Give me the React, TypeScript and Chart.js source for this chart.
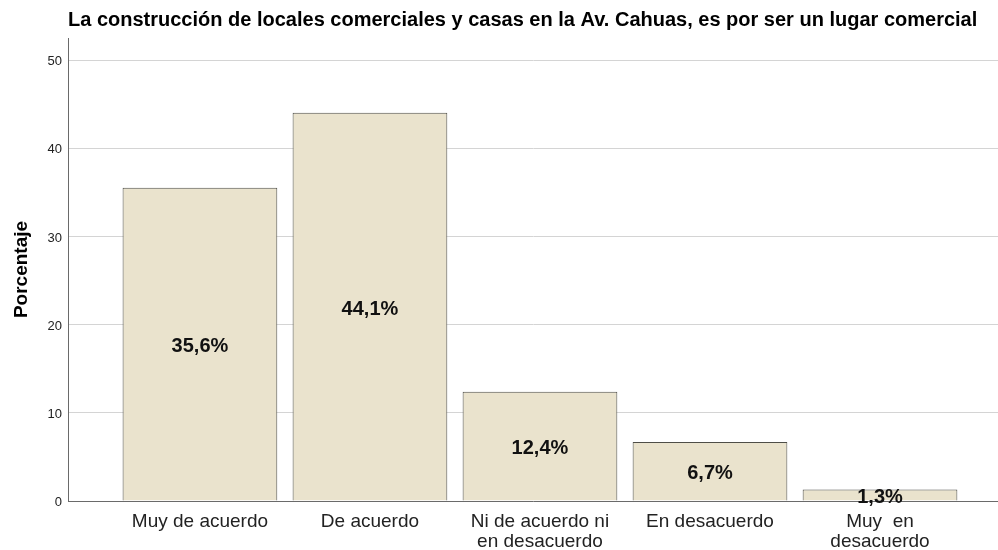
import React, { useEffect, useRef } from "react";
import { Chart, registerables } from "chart.js";

Chart.register(...registerables);

const categories: (string | string[])[] = [
  "Muy de acuerdo",
  "De acuerdo",
  ["Ni de acuerdo ni", "en desacuerdo"],
  "En desacuerdo",
  ["Muy  en", "desacuerdo"],
];
const percentages = [35.6, 44.1, 12.4, 6.7, 1.3];
const yTicks = [0, 10, 20, 30, 40, 50];
const titleText =
  "La construcción de locales comerciales y casas en la Av. Cahuas, es por ser un lugar comercial";
const yTitle = "Porcentaje";

const FONT = "Arial, 'Liberation Sans', Helvetica, sans-serif";

const barLabels = {
  id: "barLabels",
  afterDatasetsDraw(chart: any) {
    const ctx = chart.ctx;
    const meta = chart.getDatasetMeta(0);
    ctx.save();
    ctx.font = `bold 20px ${FONT}`;
    ctx.fillStyle = "#111";
    ctx.textAlign = "center";
    ctx.textBaseline = "middle";
    meta.data.forEach((el: any, i: number) => {
      const v = percentages[i];
      const txt = v.toFixed(1).replace(".", ",") + "%";
      ctx.fillText(txt, el.x, (el.y + el.base) / 2 + 2.5);
    });
    ctx.restore();
  },
};

export default function App() {
  const ref = useRef<HTMLCanvasElement>(null);
  useEffect(() => {
    document.body.style.margin = "0";
    const chart = new Chart(ref.current!, {
      type: "bar",
      data: {
        datasets: [
          {
            data: percentages.map((v, i) => ({ x: i, y: v })),
            backgroundColor: "#EAE3CD",
            borderColor: "#4E4E47",
            borderWidth: 1,
            barPercentage: 1,
            categoryPercentage: 0.91,
          },
        ],
      },
      options: {
        responsive: false,
        animation: false,
        devicePixelRatio: 1,
        layout: { padding: 0 },
        plugins: {
          legend: { display: false },
          tooltip: { enabled: false },
          title: {
            display: true,
            text: titleText,
            align: "start",
            fullSize: false,
            color: "#000",
            font: { family: FONT, size: 20, weight: "bold" },
            padding: { top: 8, bottom: 6 },
          },
        },
        scales: {
          x: {
            type: "linear",
            offset: false,
            min: -0.776,
            max: 4.694,
            grid: { display: false, drawTicks: false },
            border: { display: true, color: "#6a6a6a", width: 1 },
            afterBuildTicks: (scale: any) => {
              scale.ticks = categories.map((_, i) => ({ value: i }));
            },
            afterFit: (scale: any) => {
              scale.height = 49;
            },
            ticks: {
              autoSkip: false,
              maxRotation: 0,
              padding: 11,
              color: "#222",
              font: { family: FONT, size: 19, lineHeight: 1.05 },
              callback: (v: any) => categories[Math.round(Number(v))] ?? "",
            },
          },
          y: {
            min: 0,
            max: 52.6,
            afterBuildTicks: (scale: any) => {
              scale.ticks = yTicks.map((v) => ({ value: v }));
            },
            afterFit: (scale: any) => {
              scale.width = 68;
            },
            grid: { color: "#D4D4D4", lineWidth: 1, drawTicks: false },
            border: { display: true, color: "#6a6a6a", width: 1 },
            ticks: {
              padding: 6,
              labelOffset: 1,
              color: "#222",
              font: { family: FONT, size: 13 },
            },
            title: {
              display: true,
              text: yTitle,
              color: "#000",
              font: { family: FONT, size: 19, weight: "bold" },
              padding: { top: 10, bottom: 0 },
            },
          },
        },
      },
      plugins: [barLabels],
    } as any);
    return () => chart.destroy();
  }, []);
  return (
    <div style={{ width: 998, height: 550 }}>
      <canvas ref={ref} width={998} height={550} />
    </div>
  );
}
